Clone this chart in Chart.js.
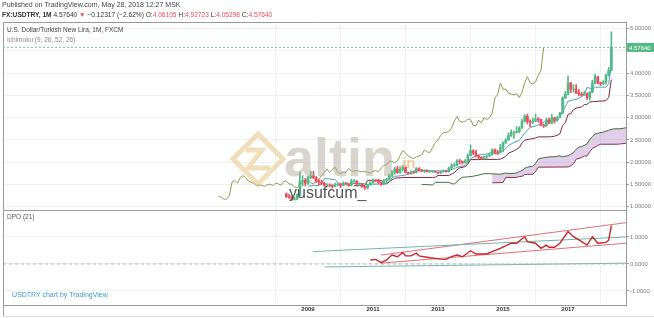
<!DOCTYPE html>
<html><head><meta charset="utf-8">
<script src="https://cdn.jsdelivr.net/npm/chart.js@4"></script>
<style>
html,body{margin:0;padding:0;background:#fff;}
#wrap{position:relative;width:654px;height:318px;overflow:hidden;font-family:"Liberation Sans",Arial,sans-serif;background:#fff;}
canvas{position:absolute;left:0;top:0;}
.t{position:absolute;white-space:nowrap;line-height:1;}
svg{position:absolute;left:0;top:0;}
</style></head><body>
<div id="wrap">
<canvas id="c" width="654" height="318"></canvas>
<svg width="654" height="318" viewBox="0 0 654 318">
  <g opacity="0.5">
    <polygon points="258,134 283,159 258,184 233,159" fill="none" stroke="#e2c078" stroke-width="5"/>
    <polyline points="246,150 262,150 248,168 270,168" fill="none" stroke="#e2c078" stroke-width="5"/>
  </g>
  <text x="284" y="176" font-family="Liberation Sans, Arial, sans-serif" font-weight="bold" font-size="54" fill="#b4aa9c" fill-opacity="0.5">altin</text>
  <text x="398" y="168" font-family="Liberation Sans, Arial, sans-serif" font-weight="bold" font-size="15" fill="#e6a95a" fill-opacity="0.6">.in</text>
  <text x="289" y="198" font-family="Liberation Sans, Arial, sans-serif" font-size="16" fill="#555">yusufcum_</text>
</svg>
<div class="t" style="left:2px;top:1px;font-size:7px;color:#444">Published on TradingView.com, May 28, 2018 12:27 MSK</div>
<div class="t" style="left:2px;top:12px;font-size:6.6px;color:#333"><b>FX:USDTRY, 1M</b> 4.57640 <span style="color:#eb4d5c">▼</span> −0.12317 (−2.62%) O:<span style="color:#eb4d5c">4.06105</span> H:<span style="color:#eb4d5c">4.92723</span> L:<span style="color:#eb4d5c">4.05298</span> C:<span style="color:#eb4d5c">4.57640</span></div>
<div class="t" style="left:7px;top:27px;font-size:6.5px;color:#444">U.S. Dollar/Turkish New Lira, 1M, FXCM</div>
<div class="t" style="left:7px;top:37px;font-size:6.5px;color:#888">Ichimoku (9, 26, 52, 26)</div>
<div class="t" style="left:7px;top:214px;font-size:6.5px;color:#555">DPO (21)</div>
<div class="t" style="left:12px;top:291px;font-size:7px;color:#3d9ad1">USDTRY chart by TradingView</div>
</div>
<script>
// ---- data: monthly bars, index 0 = May 2008 ----
const opens = [1.29,1.23,1.22,1.17,1.18,1.26,1.57,1.59,1.53,1.66,
1.70,1.66,1.58,1.55,1.53,1.48,1.49,1.48,1.46,1.50,
1.51,1.48,1.53,1.52,1.48,1.57,1.58,1.51,1.51,1.45,
1.43,1.50,1.54,1.60,1.59,1.54,1.51,1.59,1.62,1.70,
1.77,1.85,1.77,1.84,1.89,1.77,1.75,1.78,1.77,1.86,
1.81,1.80,1.82,1.79,1.79,1.79,1.78,1.76,1.80,1.81,
1.79,1.87,1.93,1.94,2.03,2.02,1.99,2.03,2.15,2.26,
2.21,2.14,2.11,2.08,2.12,2.14,2.17,2.28,2.23,2.22,
2.33,2.44,2.50,2.60,2.67,2.67,2.69,2.77,2.92,3.03,
2.92,2.90,2.92,2.97,2.96,2.83,2.82,2.95,2.88,3.00,
2.96,3.00,3.10,3.44,3.52,3.78,3.64,3.64,3.55,3.53,
3.51,3.54,3.45,3.57,3.78,3.92,3.78,3.76,3.80,3.95,
4.06105];
const highs = [1.31,1.28,1.25,1.22,1.29,1.78,1.70,1.64,1.69,1.80,
1.80,1.68,1.61,1.60,1.56,1.52,1.52,1.50,1.53,1.53,
1.52,1.56,1.55,1.53,1.62,1.62,1.59,1.54,1.52,1.46,
1.51,1.56,1.63,1.61,1.62,1.56,1.62,1.64,1.73,1.82,
1.89,1.91,1.90,1.93,1.90,1.78,1.81,1.80,1.88,1.88,
1.84,1.83,1.83,1.81,1.81,1.80,1.78,1.81,1.83,1.82,
1.89,1.97,1.98,2.06,2.07,2.03,2.06,2.19,2.39,2.28,
2.27,2.16,2.13,2.14,2.16,2.20,2.30,2.30,2.27,2.40,
2.46,2.53,2.66,2.73,2.70,2.80,2.80,2.97,3.07,3.08,
2.95,2.99,3.08,3.00,2.97,2.86,2.99,2.99,3.08,3.01,
3.03,3.12,3.47,3.59,3.94,3.79,3.74,3.74,3.63,3.57,
3.59,3.56,3.59,3.84,3.98,3.93,3.80,3.83,3.98,4.13,
4.92723];
const lows = [1.21,1.19,1.16,1.15,1.16,1.24,1.47,1.47,1.50,1.63,
1.63,1.55,1.50,1.50,1.47,1.46,1.45,1.42,1.45,1.47,
1.43,1.47,1.51,1.46,1.47,1.55,1.50,1.48,1.44,1.39,
1.40,1.48,1.53,1.56,1.53,1.48,1.50,1.55,1.60,1.68,
1.73,1.75,1.75,1.80,1.76,1.73,1.73,1.75,1.76,1.80,
1.79,1.77,1.78,1.77,1.77,1.77,1.74,1.75,1.78,1.78,
1.78,1.86,1.90,1.92,1.96,1.96,1.98,2.01,2.14,2.17,
2.12,2.08,2.06,2.07,2.09,2.13,2.16,2.19,2.18,2.21,
2.24,2.42,2.49,2.58,2.54,2.65,2.66,2.76,2.90,2.86,
2.80,2.86,2.91,2.90,2.82,2.78,2.80,2.86,2.86,2.88,
2.92,3.00,3.09,3.43,3.51,3.56,3.57,3.54,3.49,3.49,
3.50,3.41,3.39,3.56,3.76,3.76,3.72,3.74,3.76,3.93,
4.05298];
const closes = [1.23,1.22,1.17,1.18,1.26,1.57,1.59,1.53,1.66,1.70,
1.66,1.58,1.55,1.53,1.48,1.49,1.48,1.46,1.50,1.51,
1.48,1.53,1.52,1.48,1.57,1.58,1.51,1.51,1.45,1.43,
1.50,1.54,1.60,1.59,1.54,1.51,1.59,1.62,1.70,1.77,
1.85,1.77,1.84,1.89,1.77,1.75,1.78,1.77,1.86,1.81,
1.80,1.82,1.79,1.79,1.79,1.78,1.76,1.80,1.81,1.79,
1.87,1.93,1.94,2.03,2.02,1.99,2.03,2.15,2.26,2.21,
2.14,2.11,2.08,2.12,2.14,2.17,2.28,2.23,2.22,2.33,
2.44,2.50,2.60,2.67,2.67,2.69,2.77,2.92,3.03,2.92,
2.90,2.92,2.97,2.96,2.83,2.82,2.95,2.88,3.00,2.96,
3.00,3.10,3.44,3.52,3.78,3.64,3.64,3.55,3.53,3.51,
3.54,3.45,3.57,3.78,3.92,3.78,3.76,3.80,3.95,4.06,
4.5764];

// Ichimoku lines (bar index, value)
const tenkanBars = [8,10,12,13,14,16,18,19,20,22,24,26,28,30,32,34,36,38,39,40,42,44,46,48,50,52,54,56,58,60,62,64,66,68,70,72,74,76,78,80,82,84,86,88,90,92,94,96,98,100,102,104,106,108,110,111,112,113,114,116,118,119,120];
const tenkanVals = [1.465,1.475,1.48,1.52,1.635,1.625,1.61,1.55,1.515,1.49,1.52,1.525,1.525,1.505,1.51,1.51,1.51,1.565,1.65,1.685,1.695,1.715,1.765,1.83,1.83,1.815,1.805,1.81,1.79,1.815,1.86,1.905,1.925,2.085,2.145,2.175,2.185,2.225,2.18,2.26,2.375,2.445,2.49,2.655,2.785,2.81,2.87,2.93,2.93,2.93,3.125,3.37,3.40,3.43,3.515,3.675,3.665,3.615,3.685,3.685,3.685,3.76,4.16];
const kijunBars = [25,28,29,30,35,36,37,38,39,40,41,42,43,54,55,56,60,61,62,63,64,66,67,68,71,72,78,79,80,81,82,84,85,86,87,88,90,91,92,93,97,98,99,100,101,102,103,104,105,106,107,109,110,111,112,113,118,119,120];
const kijunVals = [1.475,1.475,1.48,1.595,1.595,1.535,1.515,1.56,1.605,1.64,1.65,1.65,1.66,1.66,1.665,1.705,1.705,1.735,1.765,1.83,1.875,1.90,1.96,2.06,2.06,2.065,2.065,2.07,2.10,2.135,2.205,2.255,2.29,2.33,2.435,2.495,2.52,2.53,2.545,2.57,2.57,2.575,2.585,2.605,2.64,2.825,2.885,3.075,3.09,3.18,3.215,3.24,3.295,3.30,3.35,3.36,3.38,3.455,3.855];
const leadASrc = [25,27,29,30,33,35,36,37,38,39,40,42,44,46,48,50,52,54,56,58,60,61,62,63,64,66,67,68,70,72,74,76,77,79,80,81,82,83,84,86,87,88,89,90,92,94,96,98,100,101];
const leadAVals = [1.50,1.50,1.49,1.55,1.55,1.55,1.52,1.515,1.5625,1.6275,1.6625,1.6725,1.6875,1.7125,1.745,1.745,1.7375,1.7325,1.7575,1.7475,1.76,1.795,1.8125,1.865,1.89,1.9125,1.9725,2.0725,2.1025,2.12,2.125,2.145,2.1225,2.15,2.18,2.2175,2.29,2.3425,2.35,2.41,2.5125,2.575,2.635,2.6525,2.6775,2.72,2.75,2.7525,2.7675,2.795];
const leadBSrc = [51,55,56,60,61,62,63,64,66,67,68,79,80,81,82,84,85,86,87,88,89,90,91,97,98,101];
const leadBVals = [1.54,1.545,1.66,1.66,1.68,1.685,1.725,1.73,1.73,1.79,1.89,1.895,1.925,1.965,2.07,2.105,2.14,2.14,2.235,2.31,2.34,2.38,2.405,2.405,2.41,2.43];

// DPO (21)
const dpoBars = [31,33,35,37,39,41,43,44,46,48,49,53,57,59,61,63,65,68,70,74,76,79,83,85,88,89,92,94,96,97,99,101,104,106,108,111,113,115,118,119,120];
const dpoVals = [0.15,0.17,0.05,0.15,0.33,0.27,0.42,0.30,0.30,0.40,0.30,0.23,0.18,0.17,0.27,0.33,0.27,0.49,0.37,0.37,0.46,0.58,0.77,0.77,1.01,0.83,0.77,0.58,0.70,0.62,0.62,0.77,1.20,1.01,0.89,0.70,1.01,0.77,0.80,0.88,1.42];

// user trend lines on DPO pane: [bar, value] end points
const tealUpper = [[9.9,0.46],[125.4,1.00]];
const tealLower = [[14.3,-0.11],[125.4,0.03]];
const redUpper = [[35,0.33],[125.4,1.53]];
const redLower = [[35,0.03],[125.4,0.77]];

// axes
const yearLabels = ['2009','2011','2013','2015','2017'];
const yearTickBars = [8,32,56,80,104];
const priceTicks = [1.0,1.5,2.0,2.5,3.0,3.5,4.0,4.5,5.0];
const dpoTicks = [-1,0,1];
const DISP = 25;       // Ichimoku displacement (26 - 1)
const XMIN = -104.6, XMAX = 125.4;

const UP = '#53b987', DOWN = '#eb4d5c';
const last = closes[closes.length-1];
const candleColor = ctx => closes[ctx.dataIndex] >= opens[ctx.dataIndex] ? UP : DOWN;
const pts = (bars, vals, shift=0) => bars.map((b,i)=>({x:b+shift, y:vals[i]}));
const seg = arr => arr.map(p=>({x:p[0], y:p[1]}));

const lineDs = (label, data, color, yAxisID, order, extra={}) => Object.assign({
  type:'line', label, data, yAxisID, order, borderColor:color, borderWidth:1,
  pointRadius:0, tension:0, fill:false
}, extra);

const datasets = [
  { type:'bar', label:'bodies', yAxisID:'yP', order:0, grouped:false, barThickness:2,
    data: closes.map((c,i)=>({x:i, y:[opens[i], c]})), backgroundColor:candleColor, borderWidth:0, borderSkipped:false },
  { type:'bar', label:'wicks', yAxisID:'yP', order:1, grouped:false, barThickness:1,
    data: closes.map((c,i)=>({x:i, y:[lows[i], highs[i]]})), backgroundColor:candleColor, borderWidth:0, borderSkipped:false },
  lineDs('tenkan', pts(tenkanBars, tenkanVals), '#4a9fb5', 'yP', 2),
  lineDs('kijun', pts(kijunBars, kijunVals), '#7a2a3a', 'yP', 3),
  lineDs('leadA', pts(leadASrc, leadAVals, DISP), '#3f6e3a', 'yP', 5),
  lineDs('leadB', pts(leadBSrc, leadBVals, DISP), '#8a3050', 'yP', 6, {fill:{target:4}, backgroundColor:'rgba(175,125,195,0.38)'}),
  lineDs('lagging', closes.map((c,i)=>({x:i-DISP, y:c})), '#8f9a52', 'yP', 4),
  lineDs('lastPrice', [{x:XMIN,y:last},{x:XMAX,y:last}], 'rgba(83,185,135,0.8)', 'yP', 7, {borderDash:[2,2]}),
  lineDs('zero', [{x:XMIN,y:0},{x:XMAX,y:0}], '#b0b4b8', 'yD', 8, {borderDash:[3,3]}),
  lineDs('tealUpper', seg(tealUpper), '#6fb7ad', 'yD', 9),
  lineDs('tealLower', seg(tealLower), '#6fb7ad', 'yD', 9),
  lineDs('redUpper', seg(redUpper), '#e07070', 'yD', 9),
  lineDs('redLower', seg(redLower), '#e07070', 'yD', 9),
  lineDs('dpo', pts(dpoBars, dpoVals), '#c8252b', 'yD', 2, {borderWidth:1.4}),
];

const framePlugin = {
  id:'frame',
  afterDraw(chart){
    const c = chart.ctx, a = chart.chartArea, yP = chart.scales.yP;
    c.save();
    c.strokeStyle = '#9a9a9a'; c.lineWidth = 1;
    c.beginPath();
    c.moveTo(3.5, a.top); c.lineTo(3.5, 316);
    c.moveTo(3, a.top+0.5); c.lineTo(a.right, a.top+0.5);
    c.moveTo(3, Math.round(yP.bottom)+0.5); c.lineTo(a.right, Math.round(yP.bottom)+0.5);
    c.moveTo(3, a.bottom+0.5); c.lineTo(a.right, a.bottom+0.5);
    c.stroke();
    c.strokeStyle = '#dddddd';
    c.beginPath(); c.moveTo(3, 316.5); c.lineTo(654, 316.5); c.stroke();
    // last price label on the price axis
    const y = yP.getPixelForValue(last);
    c.fillStyle = UP;
    c.fillRect(a.right+1, y-4.5, 27, 9);
    c.fillStyle = '#fff';
    c.font = '6px "Liberation Sans", Arial, sans-serif';
    c.textBaseline = 'middle';
    c.fillText(last.toFixed(5), a.right+3, y+0.5);
    c.restore();
  }
};

new Chart(document.getElementById('c'), {
  type:'bar',
  data:{ datasets },
  plugins:[framePlugin],
  options:{
    responsive:false, animation:false, devicePixelRatio:1,
    layout:{ padding:{ left:3, top:22, right:0, bottom:0 } },
    plugins:{ legend:{display:false}, tooltip:{enabled:false} },
    scales:{
      x:{ type:'linear', min:XMIN, max:XMAX, offset:false,
        afterBuildTicks: s => { s.ticks = yearTickBars.map(v=>({value:v})); },
        afterFit: s => { s.height = 13; },
        ticks:{ autoSkip:false, maxRotation:0, padding:1, color:'#333',
          font:{ size:6, weight:'bold', family:'"Liberation Sans", Arial, sans-serif' },
          callback: v => { const k = yearTickBars.indexOf(v); return k >= 0 ? yearLabels[k] : ''; } },
        grid:{ color:'#eef0f2', drawTicks:false },
        border:{ display:false }
      },
      yP:{ type:'linear', position:'right', stack:'v', stackWeight:188, min:0.93, max:5.146,
        afterBuildTicks: s => { s.ticks = priceTicks.map(v=>({value:v})); },
        afterFit: s => { s.width = 28; },
        ticks:{ autoSkip:false, padding:1, color:'#7a7a7a',
          font:{ size:5.8, family:'"Liberation Sans", Arial, sans-serif' },
          callback: v => v.toFixed(5) },
        grid:{ color:'#eef0f2', tickLength:3, tickColor:'#999' },
        border:{ color:'#9a9a9a' }
      },
      yD:{ type:'linear', position:'right', stack:'v', stackWeight:95, min:-1.52, max:2.0,
        afterBuildTicks: s => { s.ticks = dpoTicks.map(v=>({value:v})); },
        afterFit: s => { s.width = 28; },
        ticks:{ autoSkip:false, padding:1, color:'#7a7a7a',
          font:{ size:5.8, family:'"Liberation Sans", Arial, sans-serif' },
          callback: v => v.toFixed(4) },
        grid:{ color:'#eef0f2', tickLength:3, tickColor:'#999' },
        border:{ color:'#9a9a9a' }
      }
    }
  }
});
</script>
</body></html>
